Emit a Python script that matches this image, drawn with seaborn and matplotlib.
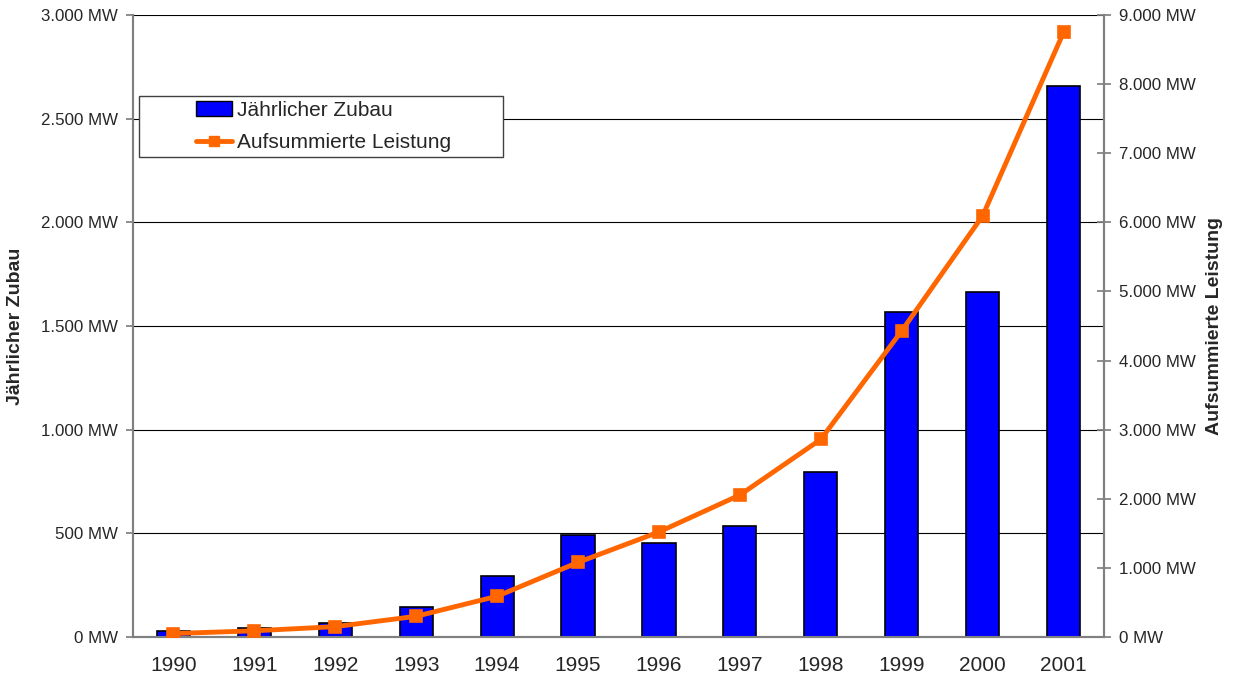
import matplotlib
matplotlib.use("Agg")
import matplotlib.pyplot as plt
import matplotlib.ticker as mticker
from matplotlib.patches import Patch, Rectangle
from matplotlib.lines import Line2D
import numpy as np
import pandas as pd
import seaborn as sns

years = ["1990", "1991", "1992", "1993", "1994", "1995", "1996", "1997", "1998", "1999", "2000", "2001"]
zubau = [30, 43, 68, 143, 294, 490, 453, 535, 794, 1567, 1666, 2659]
summe = [50, 90, 150, 300, 590, 1080, 1520, 2055, 2860, 4430, 6095, 8750]
left_ticks = [0, 500, 1000, 1500, 2000, 2500, 3000]
right_ticks = [0, 1000, 2000, 3000, 4000, 5000, 6000, 7000, 8000, 9000]
label_bar = "Jährlicher Zubau"
label_line = "Aufsummierte Leistung"

df = pd.DataFrame({"Jahr": years, "Zubau": zubau, "Summe": summe})

sns.set_theme(style="white")
plt.rcParams["font.family"] = ["Liberation Sans", "DejaVu Sans"]

fig = plt.figure(figsize=(12.38, 6.8), dpi=100)
ax = fig.add_axes([0.1074, 0.0632, 0.7844, 0.9148])

blue = "#0000FF"
orange = "#FF6600"
gray = "#808080"

sns.barplot(data=df, x="Jahr", y="Zubau", ax=ax, color=blue, width=0.41,
            edgecolor="black", linewidth=1.2, saturation=1, zorder=3)
ax.set_ylim(0, 3000)
ax.set_xlim(-0.5, len(years) - 0.5)
ax.set_yticks(left_ticks)
fmt = mticker.FuncFormatter(lambda v, p: f"{int(v):,} MW".replace(",", "."))
ax.yaxis.set_major_formatter(fmt)
ax.grid(axis="y", color="black", linewidth=0.8, zorder=0)
ax.set_axisbelow(True)
ax.set_xlabel("")
ax.set_ylabel(label_bar, fontsize=14, fontweight="bold", labelpad=12)
ax.tick_params(axis="y", labelsize=12.2, length=5, color=gray, direction="out", pad=6)
ax.tick_params(axis="x", which="major", length=0, labelsize=15, pad=14)
ax.set_xticks(np.arange(-0.5, len(years), 1.0), minor=True)
ax.tick_params(axis="x", which="minor", length=6, color=gray, direction="out")
ax.spines["top"].set_visible(False)
for s in ["left", "right", "bottom"]:
    ax.spines[s].set_color(gray)
    ax.spines[s].set_linewidth(1.5)

ax2 = ax.twinx()
sns.pointplot(data=df, x="Jahr", y="Summe", ax=ax2, color=orange, markers="s",
              markersize=7, linewidth=3.5, errorbar=None, zorder=5)
ax2.set_ylim(0, 9000)
ax2.set_xlim(-0.5, len(years) - 0.5)
ax2.set_yticks(right_ticks)
ax2.yaxis.set_major_formatter(fmt)
ax2.set_ylabel(label_line, fontsize=14, fontweight="bold", labelpad=7)
ax2.tick_params(axis="y", labelsize=12.2, length=10, color=gray, direction="inout", pad=6)
ax2.spines["top"].set_visible(False)
for s in ["left", "right", "bottom"]:
    ax2.spines[s].set_color(gray)
    ax2.spines[s].set_linewidth(1.5)

# legend frame
W, H = 1238, 680
frame = Rectangle((139 / W, 1 - 157 / H), 364 / W, 61 / H, transform=fig.transFigure,
                  facecolor="white", edgecolor="#404040", linewidth=1.0, zorder=10)
fig.add_artist(frame)
handles = [Patch(facecolor=blue, edgecolor="black", label=label_bar),
           Line2D([0], [0], color=orange, lw=3.5, marker="s", markersize=7, label=label_line)]
leg = fig.legend(handles=handles, loc="center left", bbox_to_anchor=(196 / W, 1 - 126.5 / H),
                 fontsize=15, frameon=False, borderpad=0, handlelength=1.75,
                 handletextpad=0.2, labelspacing=0.65, borderaxespad=0)
leg.set_zorder(11)

fig.savefig("out.png", dpi=100)
